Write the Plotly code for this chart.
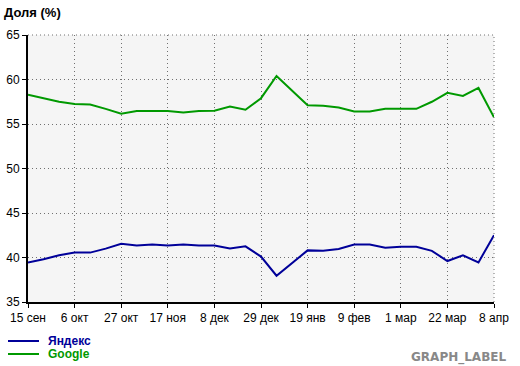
import plotly.graph_objects as go

tick_labels = ["15 сен", "6 окт", "27 окт", "17 ноя", "8 дек", "29 дек", "19 янв",
               "9 фев", "1 мар", "22 мар", "8 апр"]
weeks = list(range(31))
series_names = ["Яндекс", "Google"]
yandex = [39.45, 39.8, 40.25, 40.55, 40.55, 41.0, 41.55, 41.35, 41.45, 41.35,
          41.45, 41.35, 41.35, 41.0, 41.25, 40.1, 37.95, 39.4, 40.8, 40.75,
          40.95, 41.45, 41.45, 41.1, 41.2, 41.2, 40.75, 39.6, 40.25, 39.45, 42.5]
google = [58.3, 57.9, 57.5, 57.25, 57.2, 56.7, 56.15, 56.45, 56.45, 56.45,
          56.3, 56.45, 56.5, 56.95, 56.6, 57.9, 60.4, 58.75, 57.1, 57.05,
          56.85, 56.4, 56.4, 56.7, 56.7, 56.7, 57.5, 58.5, 58.15, 59.05, 55.75]
colors = ["#000099", "#009900"]

W, H = 520, 366
L, R, T, B = 28, 26, 35, 64

fig = go.Figure()
for name, vals, c in zip(series_names, [yandex, google], colors):
    fig.add_trace(go.Scatter(x=weeks, y=vals, mode="lines", name=name,
                             line=dict(color=c, width=2), showlegend=False))

font = "Liberation Sans, Arial, sans-serif"
grid = dict(showgrid=True, gridcolor="#707070", griddash="1px,3px", gridwidth=1,
            showline=True, linecolor="black", linewidth=2,
            ticks="outside", ticklen=4, tickcolor="black", tickwidth=1,
            zeroline=False, fixedrange=True, automargin=False)
fig.update_layout(
    width=W, height=H,
    margin=dict(l=L, r=R, t=T, b=B, autoexpand=False),
    paper_bgcolor="white", plot_bgcolor="#f5f5f5",
    font=dict(family=font, size=12, color="black"),
    xaxis=dict(range=[0, 30], tickvals=weeks[::3], ticktext=tick_labels, **grid),
    yaxis=dict(range=[35, 65], tickvals=[35, 40, 45, 50, 55, 60, 65], **grid),
)

# top and right dotted border lines
fig.add_shape(type="line", xref="paper", yref="paper", x0=0, x1=1, y0=1, y1=1,
              line=dict(color="#707070", width=1, dash="1px,3px"))
fig.add_shape(type="line", xref="paper", yref="paper", x0=1, x1=1, y0=0, y1=1,
              line=dict(color="#707070", width=1, dash="1px,3px"))

def px(xp):
    return (xp - L) / (W - L - R)

def py(yp):
    return (H - B - yp) / (H - T - B)

fig.add_annotation(text="<b>Доля (%)</b>", xref="paper", yref="paper",
                   x=px(2), y=py(12), xanchor="left", yanchor="middle",
                   showarrow=False, font=dict(size=13, color="black", family=font))

for i, (name, c) in enumerate(zip(series_names, colors)):
    yy = 341 + i * 13
    fig.add_shape(type="line", xref="paper", yref="paper",
                  x0=px(8), x1=px(39), y0=py(yy), y1=py(yy),
                  line=dict(color=c, width=2))
    fig.add_annotation(text="<b>" + name + "</b>", xref="paper", yref="paper",
                       x=px(46), y=py(yy), xanchor="left", yanchor="middle",
                       showarrow=False, font=dict(size=12, color=c, family=font))

fig.add_annotation(text="<b>GRAPH_LABEL</b>", xref="paper", yref="paper",
                   x=px(508), y=py(357), xanchor="right", yanchor="middle",
                   showarrow=False, font=dict(size=12, color="#888888", family="DejaVu Sans"))

fig.write_html("out.html")
